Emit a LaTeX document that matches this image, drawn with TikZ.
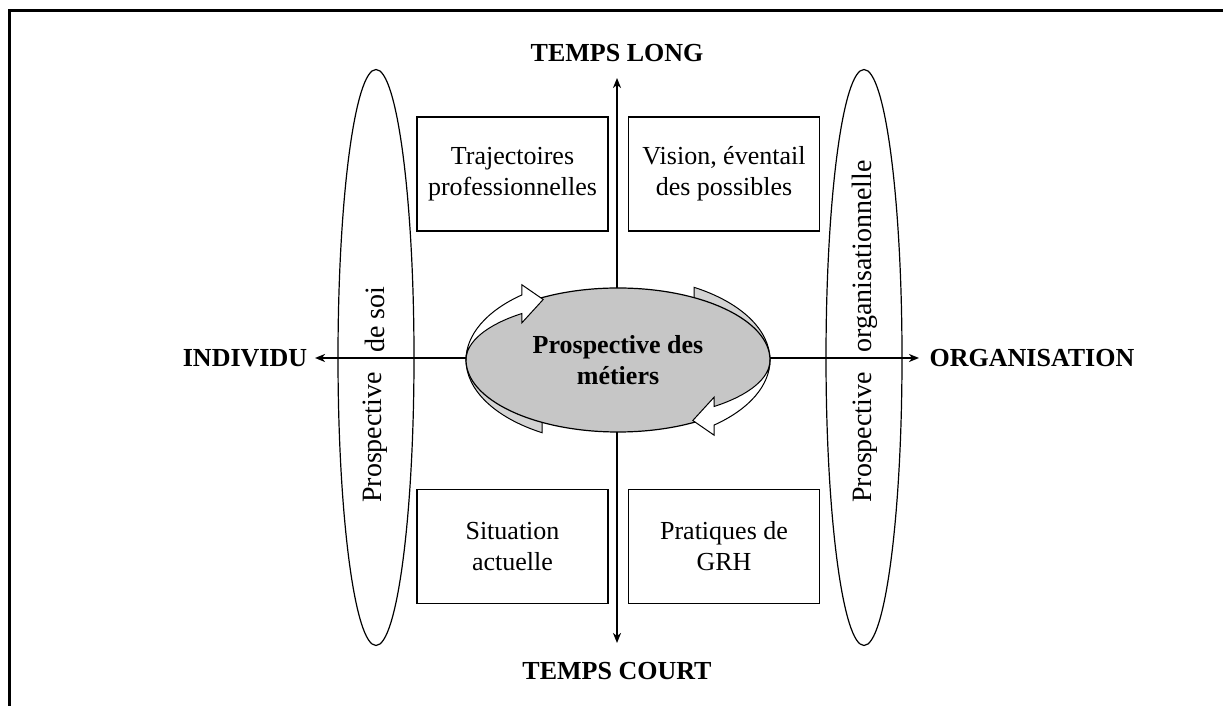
\documentclass[tikz,border=0pt]{standalone}
\usepackage{fontspec}
\setmainfont{Liberation Serif}
\usetikzlibrary{arrows.meta,shapes.geometric}
\definecolor{coregray}{RGB}{198,198,198}
\definecolor{bandgray}{RGB}{212,212,212}
\begin{document}
\begin{tikzpicture}[x=1pt,y=1pt,
  axislabel/.style={font=\fontsize{26}{31}\selectfont\bfseries, inner sep=0pt, anchor=base},
  quadbox/.style={draw, line width=1.2pt, rectangle, minimum width=191pt, minimum height=114pt,
    align=center, font=\fontsize{26}{31}\selectfont, inner sep=0pt},
  sidering/.style={draw, line width=1.2pt, ellipse, minimum width=76pt, minimum height=576pt, inner sep=0pt},
  ringtext/.style={rotate=90, font=\fontsize{28}{33}\selectfont, inner sep=0pt},
  axisarrow/.style={line width=1.8pt, {Stealth[length=10pt,width=8pt,inset=3pt]}-{Stealth[length=10pt,width=8pt,inset=3pt]}},
  bandback/.style={draw=black, line width=1pt, fill=bandgray},
  bandfront/.style={draw=black, line width=1pt, fill=white},
]
\useasboundingbox (0,0) rectangle (1223,706);

% frame edges
\draw[line width=3pt] (9.5,0) -- (9.5,695.5) -- (1223,695.5);

% axis labels
\node[axislabel] (long)  at (617,644) {TEMPS LONG};
\node[axislabel] (court) at (617,26)  {TEMPS COURT};
\node[axislabel] (indiv) at (245,339) {INDIVIDU};
\node[axislabel] (orga)  at (1032,339) {ORGANISATION};

% axis end points
\coordinate (axT) at (617,628);
\coordinate (axB) at (617,63);
\coordinate (axL) at (315,348);
\coordinate (axR) at (919,348);

\draw[axisarrow] (axB) -- (axT);
\draw[axisarrow] (axL) -- (axR);

% side rings
\node[sidering] (ringL) at (376,348.5) {};
\node[sidering] (ringR) at (864,348.5) {};
\node[ringtext, anchor=east] (soiA) at (375,334) {Prospective};
\node[ringtext, anchor=west] (soiB) at (375,353) {de soi};
\node[ringtext, anchor=east] (orgA) at (865,334) {Prospective};
\node[ringtext, anchor=west] (orgB) at (865,353) {organisationnelle};

% quadrant boxes
\node[quadbox] (qTL) at (512.5,532) {Trajectoires\\professionnelles};
\node[quadbox] (qTR) at (724,532)   {Vision, éventail\\des possibles};
\node[quadbox] (qBL) at (512.5,159.5) {Situation\\actuelle};
\node[quadbox] (qBR) at (724,159.5)   {Pratiques de\\GRH};

% rear halves of the circular arrows
\path[bandback] (542,273.3) arc[start angle=240, end angle=180, x radius=152, y radius=84]
  arc[start angle=180, end angle=240, x radius=152, y radius=60] -- cycle;
\begin{scope}[rotate around={180:(618,346)}]
\path[bandback] (542,273.3) arc[start angle=240, end angle=180, x radius=152, y radius=84]
  arc[start angle=180, end angle=240, x radius=152, y radius=60] -- cycle;
\end{scope}

% central ellipse
\node[ellipse, draw, line width=1.2pt, fill=coregray, minimum width=304pt, minimum height=144pt,
  inner sep=0pt, align=center, font=\fontsize{26}{31}\selectfont\bfseries] (core) at (618,346)
  {Prospective des\\métiers};

% front halves with heads
\path[bandfront] (466,346) arc[start angle=180, end angle=129.2, x radius=152, y radius=84]
  -- (521.9,421.2) -- (543.2,406.5) -- (521.9,383.2) -- (521.9,392.5)
  arc[start angle=129.2, end angle=180, x radius=152, y radius=60] -- cycle;
\begin{scope}[rotate around={180:(618,346)}]
\path[bandfront] (466,346) arc[start angle=180, end angle=129.2, x radius=152, y radius=84]
  -- (521.9,421.2) -- (543.2,406.5) -- (521.9,383.2) -- (521.9,392.5)
  arc[start angle=129.2, end angle=180, x radius=152, y radius=60] -- cycle;
\end{scope}
\end{tikzpicture}
\end{document}
